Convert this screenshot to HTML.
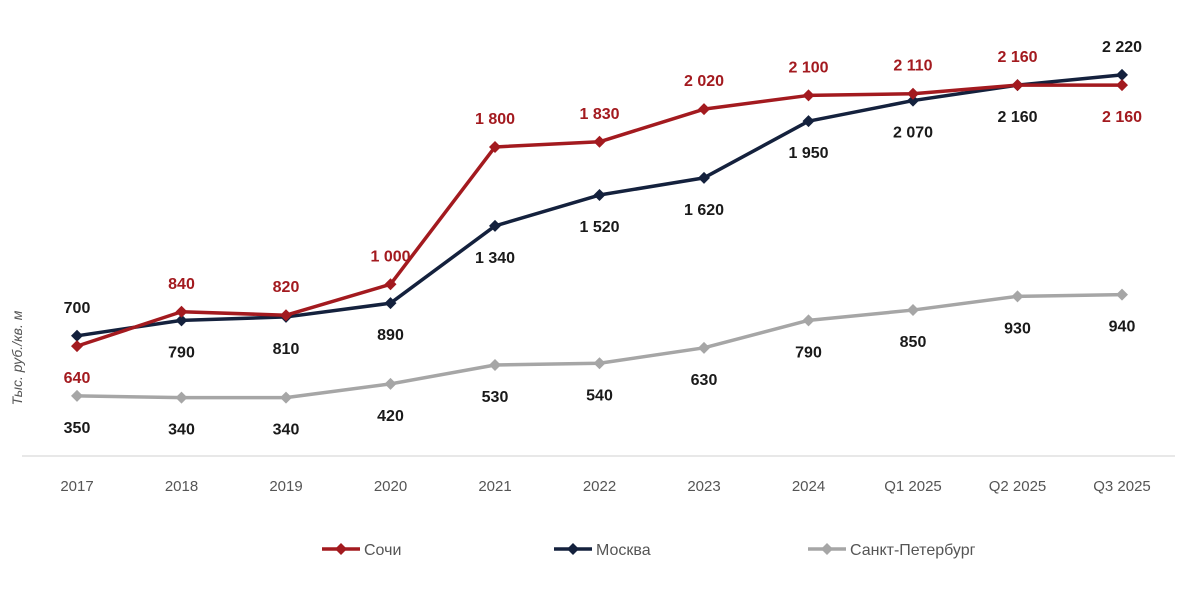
<!DOCTYPE html>
<html><head><meta charset="utf-8"><style>
body{margin:0;background:#fff;}
svg{display:block;font-family:"Liberation Sans Narrow","Liberation Sans",sans-serif;}
</style></head><body>
<svg id="chart" width="1200" height="591" viewBox="0 0 1200 591"></svg>
<script>
const categories=["2017","2018","2019","2020","2021","2022","2023","2024","Q1 2025","Q2 2025","Q3 2025"];
const sochi=[640,840,820,1000,1800,1830,2020,2100,2110,2160,2160];
const moscow=[700,790,810,890,1340,1520,1620,1950,2070,2160,2220];
const spb=[350,340,340,420,530,540,630,790,850,930,940];
const sochiPos=["b","a","a","a","a","a","a","a","a","a","b"];
const moscowPos=["a","b","b","b","b","b","b","b","b","b","a"];
const spbPos=["b","b","b","b","b","b","b","b","b","b","b"];
const svg=document.getElementById('chart');
const NS="http://www.w3.org/2000/svg";
function x(i){return 77+i*104.5;}
function y(v){return 456-v*0.1717;}
function mk(tag,attrs,parent){const e=document.createElementNS(NS,tag);for(const k in attrs)e.setAttribute(k,attrs[k]);(parent||svg).appendChild(e);return e;}
function fmt(v){const s=String(v);return s.length>3?s.slice(0,-3)+" "+s.slice(-3):s;}
const axis=mk('line',{x1:22,x2:1175,y1:456,y2:456,stroke:'#d0d0d0','stroke-width':1});


categories.forEach((c,i)=>{
  const t=mk('text',{x:x(i),y:491,'text-anchor':'middle','font-size':15,fill:'#555'});
  t.textContent=c;
  
  
});
const yt=mk('text',{x:0,y:0,transform:'translate(22,358) rotate(-90)','text-anchor':'middle','font-size':14,'font-style':'italic',fill:'#555'});
yt.textContent="Тыс. руб./кв. м";


function diamond(cx,cy,r,color,parent){return mk('path',{d:`M${cx},${cy-r}L${cx+r},${cy}L${cx},${cy+r}L${cx-r},${cy}Z`,fill:color},parent);}
function series(vals,pos,color,lblColor,name){
  const g=mk('g',{});
  
  
  const p=mk('polyline',{points:vals.map((v,i)=>x(i)+','+y(v)).join(' '),fill:'none',stroke:color,'stroke-width':3.5,'stroke-linejoin':'round'},g);
  
  
  vals.forEach((v,i)=>{
    const d=diamond(x(i),y(v),6,color,g);
    
    
    const ly=pos[i]==="a"?y(v)-23:y(v)+37;
    const t=mk('text',{x:x(i),y:ly,'text-anchor':'middle','font-size':16,'font-weight':'bold',fill:lblColor},g);
    t.textContent=fmt(v);
    
    
  });
}
series(spb,spbPos,'#a6a6a6','#1a1a1a','spb');
series(moscow,moscowPos,'#14213d','#1a1a1a','moscow');
series(sochi,sochiPos,'#a31a1f','#a31a1f','sochi');
const legend=[["Сочи",'#a31a1f',322],["Москва",'#14213d',554],["Санкт-Петербург",'#a6a6a6',808]];
legend.forEach(l=>{
  const g=mk('g',{});
  
  
  mk('line',{x1:l[2],x2:l[2]+38,y1:549,y2:549,stroke:l[1],'stroke-width':3.5},g);
  diamond(l[2]+19,549,6,l[1],g);
  const t=mk('text',{x:l[2]+42,y:555,'font-size':16,fill:'#555'},g);
  t.textContent=l[0];
});
</script>
</body></html>
